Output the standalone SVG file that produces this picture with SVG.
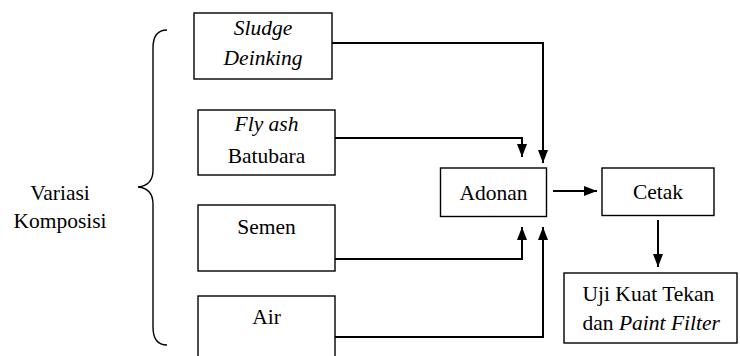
<svg xmlns="http://www.w3.org/2000/svg" width="740" height="356" viewBox="0 0 740 356">
<style>
.box{fill:#fff;stroke:#000;stroke-width:1.4}
text{font-family:'Liberation Serif','Times New Roman','DejaVu Serif',serif;font-size:21.5px;fill:#000}
.c{text-anchor:middle}
.i{font-style:italic}
.ln{fill:none;stroke:#000;stroke-width:2}
</style>
<defs>
<marker id="ah" markerUnits="userSpaceOnUse" markerWidth="13" markerHeight="10" refX="13" refY="5" orient="auto">
<path d="M0,0 L13,5 L0,10 z" fill="#000"/>
</marker>
</defs>
<rect width="740" height="356" fill="#fff"/>
<g id="brace">
<path d="M167,30 C157,30 153,36 153,48 V170 C153,181 148,186 138,187 C148,188 153,193 153,204 V327 C153,339 157,345 167,345" fill="none" stroke="#000" stroke-width="1.4"/>
<text class="c" x="60" y="200" font-family="Liberation Serif, serif">Variasi</text>
<text class="c" x="60" y="228" font-family="Liberation Serif, serif">Komposisi</text>
</g>
<g id="sludge">
<rect class="box" x="194" y="13" width="138" height="66"/>
<text class="c i" x="263" y="35">Sludge</text>
<text class="c i" x="263" y="64.5">Deinking</text>
</g>
<g id="flyash">
<rect class="box" x="198" y="110" width="137" height="65"/>
<text class="c" x="266.5" y="130.5"><tspan class="i">Fly ash</tspan></text>
<text class="c" x="266.5" y="162.5">Batubara</text>
</g>
<g id="semen">
<rect class="box" x="198" y="205" width="137" height="66"/>
<text class="c" x="266.5" y="233.5">Semen</text>
</g>
<g id="air">
<rect class="box" x="198" y="296" width="137" height="70"/>
<text class="c" x="266.5" y="323.5">Air</text>
</g>
<g id="adonan">
<rect class="box" x="440.5" y="168" width="106" height="48.5"/>
<text class="c" x="493.5" y="199.5">Adonan</text>
</g>
<g id="cetak">
<rect class="box" x="602" y="168" width="112" height="47.5"/>
<text class="c" x="658" y="198.5">Cetak</text>
</g>
<g id="uji">
<rect class="box" x="564" y="273" width="173" height="70"/>
<text x="582.5" y="300.5">Uji Kuat Tekan</text>
<text x="582.5" y="329.5">dan <tspan class="i">Paint Filter</tspan></text>
</g>
<g id="connectors">
<path class="ln" d="M332,43 H543 V163" marker-end="url(#ah)"/>
<path class="ln" d="M335,138 H522 V157" marker-end="url(#ah)"/>
<path class="ln" d="M335,259 H522 V227" marker-end="url(#ah)"/>
<path class="ln" d="M335,337 H543 V227" marker-end="url(#ah)"/>
<path class="ln" d="M553,191 H597" marker-end="url(#ah)"/>
<path class="ln" d="M658,220 V267" marker-end="url(#ah)"/>
</g>
</svg>
